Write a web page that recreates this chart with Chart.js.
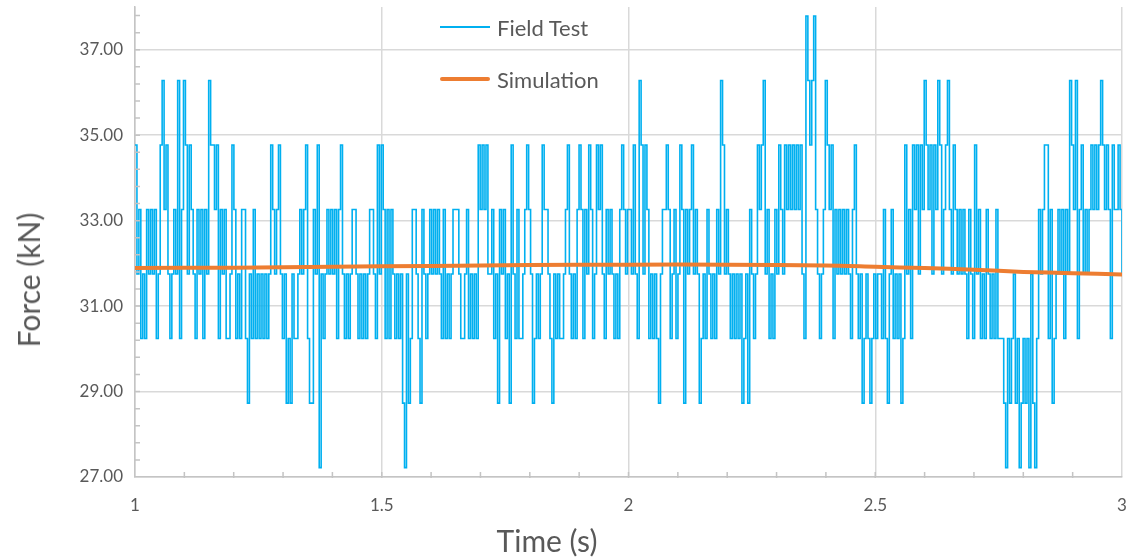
<!DOCTYPE html>
<html>
<head>
<meta charset="utf-8">
<script src="https://cdn.jsdelivr.net/npm/chart.js@4.4.1/dist/chart.umd.min.js"></script>
<style>
  html, body { margin: 0; padding: 0; background: #fff; }
  #wrap { position: relative; width: 1132px; height: 558px; font-family: Lato, sans-serif; color: #595959; }
  #legend { position: absolute; left: 440px; top: 0; font-size: 22px; }
  #legend .item { position: absolute; left: 0; height: 26px; display: flex; align-items: center; white-space: nowrap; }
  #legend .swatch { display: block; width: 50px; margin-right: 7px; }
  .axis-title { position: absolute; font-size: 30px; white-space: nowrap; line-height: 1; }
  #xTitle { left: 547px; top: 540px; transform: translate(-50%, -50%); }
  #yTitle { left: 28px; top: 280px; transform: translate(-50%, -50%) rotate(-90deg); }
</style>
</head>
<body>
<div id="wrap">
  <canvas id="chart" width="1132" height="558"></canvas>
  <div id="legend">
    <div class="item" style="top:14px"><span class="swatch" style="height:2px;background:#00B0F0"></span>Field Test</div>
    <div class="item" style="top:66px"><span class="swatch" style="height:4px;background:#ED7D31;border-radius:2px"></span>Simulation</div>
  </div>
  <div class="axis-title" id="xTitle">Time (s)</div>
  <div class="axis-title" id="yTitle">Force (kN)</div>
</div>
<script>
// quantised force levels of the field signal (kN)
const fieldLevels = [27.22, 28.73, 30.24, 31.75, 33.26, 34.77, 36.28, 37.79];

// field test samples, one digit = index into fieldLevels, read block by block
const fieldCodes = [
  '5342324343423564532343624653543243424365',
  '5452434223542324421324232323235434532312132',
  '2343452114350323434342453232344323232344325',
  '3542424323231031244321432343434324232344432',
  '2342323254545334231434231532422345431232354',
  '4321323223453232454243542354532434323245434',
  '4353265354232321344542342354143453431232432',
  '3243653432323231231432354563423243543545454',
  '5453276567432346545243434343245323123212323',
  '3242134232312534254535465453546534564354343',
  '4324325342324323242221021231201212031024345',
  '5241234342436546245343454545654542544543'
];
const fieldStart = 1;
const fieldEnd = 3;

const simTime = [1, 1.2, 1.4, 1.6, 1.8, 2.0, 2.2, 2.4, 2.5, 2.6, 2.7, 2.8, 2.9, 3.0];
const simForce = [31.89, 31.90, 31.92, 31.94, 31.96, 31.97, 31.97, 31.95, 31.92, 31.89, 31.85, 31.80, 31.77, 31.74];

const xTicks = [1, 1.5, 2, 2.5, 3];
const yTicks = [27, 29, 31, 33, 35, 37];

const fieldSeries = fieldCodes.join('').split('').map(Number);
const step = (fieldEnd - fieldStart) / (fieldSeries.length - 1);
const fieldPoints = fieldSeries.map((k, i) => ({ x: fieldStart + i * step, y: fieldLevels[k] }));
const simPoints = simTime.map((t, i) => ({ x: t, y: simForce[i] }));

const textColor = '#595959';
const font = 'Lato';

// small inside ticks between the major ones, like the spreadsheet axes
const minorTicks = {
  id: 'minorTicks',
  afterDatasetsDraw(chart) {
    const { ctx, scales: { x, y } } = chart;
    ctx.save();
    ctx.strokeStyle = '#c4c4c4';
    ctx.lineWidth = 1.5;
    ctx.beginPath();
    for (let i = 1; i < 20; i++) {
      const px = x.getPixelForValue(1 + i * 0.1);
      ctx.moveTo(px, y.bottom + 1);
      ctx.lineTo(px, y.bottom - 5);
    }
    for (let i = 1; i <= 27; i++) {
      const py = y.getPixelForValue(27 + i * 0.4);
      ctx.moveTo(x.left, py);
      ctx.lineTo(x.left + 5, py);
    }
    ctx.stroke();
    ctx.restore();
  }
};

const noPad = (s) => { s.paddingLeft = 0; s.paddingRight = 0; s.paddingTop = 0; s.paddingBottom = 0; };

new Chart(document.getElementById('chart'), {
  type: 'line',
  data: {
    datasets: [
      { label: 'Simulation', data: simPoints, borderColor: '#ED7D31', borderWidth: 4, pointRadius: 0, tension: 0.3, borderCapStyle: 'round', order: 0 },
      { label: 'Field Test', data: fieldPoints, borderColor: '#00B0F0', borderWidth: 1.6, pointRadius: 0, stepped: true, order: 1 }
    ]
  },
  options: {
    responsive: false,
    animation: false,
    layout: { padding: { top: 7, right: 10, left: 0, bottom: 0 } },
    plugins: { legend: { display: false }, tooltip: { enabled: false } },
    scales: {
      x: {
        type: 'linear', min: 1, max: 3,
        afterBuildTicks: (s) => { s.ticks = xTicks.map((v) => ({ value: v })); },
        afterFit: (s) => { s.height = 81; noPad(s); },
        grid: { color: '#d9d9d9', lineWidth: 1.5, drawTicks: false },
        border: { color: '#c4c4c4', width: 1.5 },
        ticks: { padding: 18, color: textColor, maxRotation: 0, font: { family: font, size: 17 }, callback: (v) => String(v) }
      },
      y: {
        type: 'linear', min: 27, max: 38,
        afterBuildTicks: (s) => { s.ticks = yTicks.map((v) => ({ value: v })); },
        afterFit: (s) => { s.width = 135; noPad(s); },
        grid: { color: '#d9d9d9', lineWidth: 1.5, drawTicks: false },
        border: { color: '#c4c4c4', width: 1.5 },
        ticks: { padding: 12, color: textColor, font: { family: font, size: 17 }, callback: (v) => v.toFixed(2) }
      }
    }
  },
  plugins: [minorTicks]
});
</script>
</body>
</html>
